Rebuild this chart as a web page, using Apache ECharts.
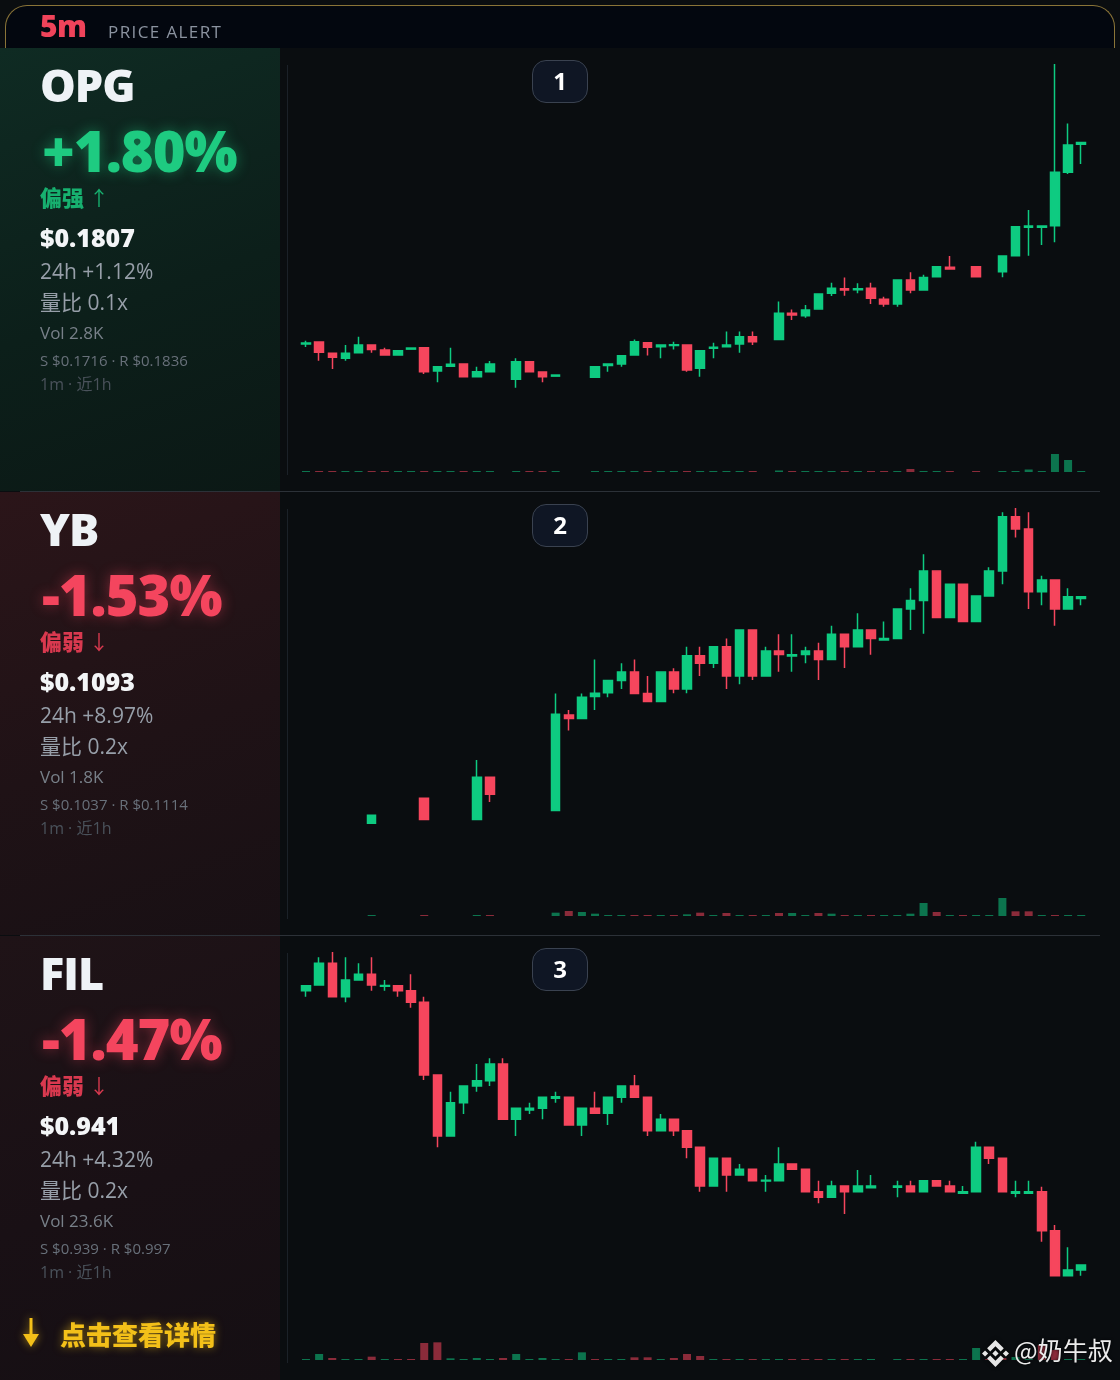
<!DOCTYPE html>
<html><head><meta charset="utf-8">
<script src="https://cdn.jsdelivr.net/npm/echarts@6/dist/echarts.min.js"></script>
<style>
html,body{margin:0;padding:0;background:#0a0d10;}
#root{position:relative;width:1120px;height:1380px;overflow:hidden;background:#0a0d10;font-family:"Open Sans","Noto Sans CJK SC",sans-serif;}
.abs{position:absolute;white-space:nowrap;line-height:1;}
#chart{position:absolute;left:0;top:0;width:1120px;height:1380px;z-index:2;}
.txt{z-index:3;}
.lbg{position:absolute;left:0;width:280px;height:443px;z-index:0;}
.vline{position:absolute;left:287px;width:1px;height:410px;background:#1b2128;z-index:1;}
.sep{position:absolute;left:20px;width:1080px;height:1px;background:#2c3138;z-index:1;}
.sym{font-size:45px;font-weight:800;color:#eef2f6;letter-spacing:-1px;}
.pct{font-size:56px;font-weight:800;letter-spacing:-1px;}
.up{color:#1ecb81;text-shadow:0 0 14px rgba(30,203,129,0.45);}
.dn{color:#f4455e;text-shadow:0 0 14px rgba(244,69,94,0.45);}
.tag{font-size:22px;font-weight:900;font-family:"Noto Sans CJK SC",sans-serif;}
.tag span{font-size:20px;font-weight:400;font-family:"Noto Sans CJK SC",sans-serif;}
.tagup{color:#17b06f;}
.tagdn{color:#d9394f;}
.price{font-size:25px;font-weight:800;color:#f3f5f7;}
.l1{font-size:21px;color:#979fa9;}
.l2{font-size:17px;color:#788089;}
.l3{font-size:15px;color:#68707a;}
.l4{font-size:16px;color:#4a525b;}
.badge{position:absolute;left:532px;width:56px;height:43px;box-sizing:border-box;border:1.5px solid #3a4250;border-radius:14px;background:#0f1624;color:#fff;font-size:24px;font-weight:700;text-align:center;line-height:40px;z-index:3;}
</style></head>
<body>
<div id="root">
  <!-- header -->
  <div class="abs" style="left:0;top:0;width:1120px;height:48px;background:#0a0d10;"></div>
  <div class="abs" style="left:5px;top:5px;width:1110px;height:60px;box-sizing:border-box;border:1.5px solid #8a7438;border-bottom:none;border-radius:22px 22px 0 0;background:#03070f;"></div>
  <div class="abs txt" style="left:40px;top:11px;font-size:30px;font-weight:800;color:#f0435a;letter-spacing:-0.5px;">5m</div>
  <div class="abs txt" style="left:108px;top:23px;font-size:17px;letter-spacing:1.4px;color:#8b93a0;">PRICE ALERT</div>

  <!-- panel backgrounds -->
  <div class="abs" style="left:0;top:48px;width:1120px;height:1332px;background:#0a0d10;z-index:0;"></div>
  <div class="lbg" style="top:48px;background:linear-gradient(160deg,#0f2b23 0%,#0c1f1a 55%,#0b1815 100%);"></div>
  <div class="lbg" style="top:492px;background:linear-gradient(160deg,#2b1519 0%,#1f1216 55%,#181014 100%);"></div>
  <div class="lbg" style="top:936px;height:444px;background:linear-gradient(160deg,#1f1317 0%,#191015 55%,#150f13 100%);"></div>
  <div class="sep" style="top:491px;"></div>
  <div class="sep" style="top:935px;"></div>
  <div class="vline" style="top:65px;"></div>
  <div class="vline" style="top:509px;"></div>
  <div class="vline" style="top:953px;"></div>

  <div id="chart"></div>

  <!-- panel 1 texts -->
  <div class="abs txt sym" style="left:40px;top:62px;">OPG</div>
  <div class="abs txt pct up" style="left:42px;top:122px;">+1.80%</div>
  <div class="abs txt tag tagup" style="left:40px;top:185px;">偏强 <span>↑</span></div>
  <div class="abs txt price" style="left:40px;top:225px;">$0.1807</div>
  <div class="abs txt l1" style="left:40px;top:261px;">24h +1.12%</div>
  <div class="abs txt l1" style="left:40px;top:292px;">量比 0.1x</div>
  <div class="abs txt l2" style="left:40px;top:324px;">Vol 2.8K</div>
  <div class="abs txt l3" style="left:40px;top:353px;">S $0.1716 · R $0.1836</div>
  <div class="abs txt l4" style="left:40px;top:376px;">1m · 近1h</div>
  <div class="badge" style="top:60px;">1</div>

  <!-- panel 2 texts -->
  <div class="abs txt sym" style="left:40px;top:506px;">YB</div>
  <div class="abs txt pct dn" style="left:42px;top:566px;">-1.53%</div>
  <div class="abs txt tag tagdn" style="left:40px;top:629px;">偏弱 <span>↓</span></div>
  <div class="abs txt price" style="left:40px;top:669px;">$0.1093</div>
  <div class="abs txt l1" style="left:40px;top:705px;">24h +8.97%</div>
  <div class="abs txt l1" style="left:40px;top:736px;">量比 0.2x</div>
  <div class="abs txt l2" style="left:40px;top:768px;">Vol 1.8K</div>
  <div class="abs txt l3" style="left:40px;top:797px;">S $0.1037 · R $0.1114</div>
  <div class="abs txt l4" style="left:40px;top:820px;">1m · 近1h</div>
  <div class="badge" style="top:504px;">2</div>

  <!-- panel 3 texts -->
  <div class="abs txt sym" style="left:40px;top:950px;">FIL</div>
  <div class="abs txt pct dn" style="left:42px;top:1010px;">-1.47%</div>
  <div class="abs txt tag tagdn" style="left:40px;top:1073px;">偏弱 <span>↓</span></div>
  <div class="abs txt price" style="left:40px;top:1113px;">$0.941</div>
  <div class="abs txt l1" style="left:40px;top:1149px;">24h +4.32%</div>
  <div class="abs txt l1" style="left:40px;top:1180px;">量比 0.2x</div>
  <div class="abs txt l2" style="left:40px;top:1212px;">Vol 23.6K</div>
  <div class="abs txt l3" style="left:40px;top:1241px;">S $0.939 · R $0.997</div>
  <div class="abs txt l4" style="left:40px;top:1264px;">1m · 近1h</div>
  <div class="badge" style="top:948px;">3</div>

  <!-- CTA -->
  <svg class="abs txt" style="left:21px;top:1317px;filter:drop-shadow(0 0 4px rgba(243,192,25,0.6));" width="20" height="32" viewBox="0 0 20 32">
    <rect x="8.5" y="1" width="3" height="20" fill="#f3c019"/>
    <polygon points="2,17 18,17 10,30" fill="#f3c019"/>
  </svg>
  <div class="abs txt" style="left:60px;top:1321px;font-size:26px;font-weight:900;font-family:'Noto Sans CJK SC',sans-serif;color:#f3c019;text-shadow:0 0 8px rgba(243,192,25,0.55);">点击查看详情</div>

  <!-- watermark -->
  <svg class="abs txt" style="left:982px;top:1340px;filter:drop-shadow(0 0 2px rgba(0,0,0,0.8));" width="27" height="27" viewBox="0 0 126 126">
    <path fill="#e6e6e6" d="M38.171 53.203l24.588-24.587 24.6 24.6 14.3-14.3L62.759 0 23.871 38.888zM0 62.759l14.3-14.3 14.3 14.3-14.3 14.3zM38.171 72.316l24.588 24.587 24.6-24.6 14.307 14.293-.007.007-38.9 38.9-38.889-38.887-.02-.02zM97.218 62.759l14.3-14.3 14.3 14.3-14.3 14.3zM77.26 62.752L62.759 48.245 48.245 62.759 62.759 77.266z"/>
  </svg>
  <div class="abs txt" style="left:1014px;top:1337px;font-size:25px;font-family:'Noto Sans CJK SC',sans-serif;color:#ececec;text-shadow:0 0 3px rgba(0,0,0,0.9);">@奶牛叔</div>
</div>

<script>
// ---------- data ----------
const minutes = [1,2,3,4,5,6,7,8,9,10,11,12,13,14,15,16,17,18,19,20,21,22,23,24,25,26,27,28,29,30,
  31,32,33,34,35,36,37,38,39,40,41,42,43,44,45,46,47,48,49,50,51,52,53,54,55,56,57,58,59,60];

// OPG 1m candles (null = no trade that minute)
const opgOpen = [0.17323,0.17330,0.17289,0.17270,0.17291,0.17319,0.17301,0.17282,0.17304,0.17309,
  0.17223,0.17241,0.17249,0.17202,0.17220,null,0.17192,0.17257,0.17219,0.17204,
  null,null,0.17200,0.17243,0.17249,0.17282,0.17328,0.17313,0.17317,0.17319,
  0.17233,0.17307,0.17313,0.17323,0.17350,null,0.17340,0.17437,0.17428,0.17453,
  0.17511,0.17528,0.17524,0.17529,0.17489,0.17471,0.17560,0.17523,0.17572,0.17607,
  null,0.17609,null,0.17591,0.17650,0.17755,0.17755,0.17761,0.17959,0.18063];
const opgClose = [0.17327,0.17292,0.17274,0.17289,0.17319,0.17303,0.17282,0.17298,0.17308,0.17220,
  0.17239,0.17248,0.17202,0.17220,0.17249,null,0.17257,0.17220,0.17202,0.17208,
  null,null,0.17239,0.17249,0.17279,0.17331,0.17311,0.17319,0.17320,0.17227,
  0.17298,0.17311,0.17319,0.17350,0.17331,null,0.17437,0.17430,0.17449,0.17508,
  0.17529,0.17523,0.17528,0.17492,0.17471,0.17560,0.17523,0.17569,0.17609,0.17601,
  null,0.17572,null,0.17649,0.17757,0.17760,0.17760,0.17959,0.18060,0.18069];
const opgLow = [0.17312,0.17261,0.17230,0.17261,0.17291,0.17291,0.17282,0.17282,0.17304,0.17212,
  0.17181,0.17241,0.17202,0.17202,0.17220,null,0.17161,0.17220,0.17181,0.17204,
  null,null,0.17200,0.17220,0.17239,0.17282,0.17280,0.17270,0.17303,0.17220,
  0.17202,0.17270,0.17313,0.17291,0.17319,null,0.17340,0.17412,0.17420,0.17453,
  0.17501,0.17502,0.17511,0.17471,0.17461,0.17461,0.17511,0.17523,0.17572,0.17601,
  null,0.17572,null,0.17570,0.17650,0.17650,0.17690,0.17700,0.17953,0.17990];
const opgHigh = [0.17335,0.17330,0.17289,0.17319,0.17350,0.17319,0.17309,0.17298,0.17308,0.17309,
  0.17239,0.17309,0.17249,0.17239,0.17260,null,0.17270,0.17257,0.17219,0.17208,
  null,null,0.17239,0.17249,0.17279,0.17340,0.17328,0.17319,0.17331,0.17319,
  0.17298,0.17328,0.17369,0.17369,0.17369,null,0.17480,0.17451,0.17467,0.17508,
  0.17550,0.17569,0.17548,0.17550,0.17498,0.17560,0.17589,0.17579,0.17609,0.17649,
  null,0.17609,null,0.17649,0.17757,0.17819,0.17760,0.18360,0.18140,0.18069];
const opgVol = [40,40,40,40,40,40,40,40,40,40,40,40,40,40,40,null,40,40,40,40,
  null,null,40,40,40,40,40,40,40,40,40,40,40,40,40,null,60,40,40,40,
  40,40,40,40,40,40,120,40,40,40,null,40,null,40,40,100,40,720,480,40];
const opgRange = [0.1716, 0.1836]; // S / R

// YB
const ybOpen = [null,null,null,null,null,0.10391,null,null,null,0.10450,
  null,null,null,0.10400,0.10500,null,null,null,null,0.10421,
  0.10648,0.10640,0.10692,0.10701,0.10730,0.10750,0.10699,0.10680,0.10750,0.10710,
  0.10789,0.10771,0.10810,0.10741,0.10850,0.10741,0.10800,0.10788,0.10792,0.10800,
  0.10780,0.10840,0.10810,0.10850,0.10826,0.10830,0.10900,0.10920,0.10990,0.10880,
  0.10959,0.10870,0.10931,0.10990,0.11119,0.11090,0.10941,0.10969,0.10900,0.10925];
const ybClose = [null,null,null,null,null,0.10410,null,null,null,0.10400,
  null,null,null,0.10500,0.10460,null,null,null,null,0.10650,
  0.10640,0.10690,0.10700,0.10730,0.10750,0.10699,0.10680,0.10750,0.10710,0.10789,
  0.10771,0.10810,0.10741,0.10850,0.10741,0.10800,0.10792,0.10791,0.10800,0.10780,
  0.10840,0.10810,0.10850,0.10830,0.10830,0.10900,0.10920,0.10990,0.10880,0.10959,
  0.10870,0.10931,0.10990,0.11119,0.11090,0.10941,0.10969,0.10900,0.10929,0.10929];
const ybLow = [null,null,null,null,null,0.10391,null,null,null,0.10400,
  null,null,null,0.10400,0.10441,null,null,null,null,0.10421,
  0.10611,0.10640,0.10660,0.10690,0.10710,0.10699,0.10680,0.10680,0.10700,0.10700,
  0.10741,0.10760,0.10710,0.10721,0.10731,0.10741,0.10751,0.10751,0.10771,0.10731,
  0.10780,0.10760,0.10810,0.10791,0.10826,0.10830,0.10850,0.10841,0.10880,0.10880,
  0.10870,0.10870,0.10931,0.10959,0.11070,0.10900,0.10909,0.10860,0.10900,0.10909];
const ybHigh = [null,null,null,null,null,0.10410,null,null,null,0.10450,
  null,null,null,0.10541,0.10500,null,null,null,null,0.10699,
  0.10660,0.10699,0.10780,0.10730,0.10771,0.10780,0.10741,0.10750,0.10759,0.10810,
  0.10810,0.10810,0.10830,0.10850,0.10850,0.10810,0.10840,0.10840,0.10810,0.10820,
  0.10860,0.10840,0.10890,0.10850,0.10870,0.10900,0.10949,0.11030,0.10990,0.10959,
  0.10959,0.10931,0.10999,0.11130,0.11140,0.11130,0.10979,0.10969,0.10949,0.10929];
const ybVol = [null,null,null,null,null,30,null,null,null,30,null,null,null,30,30,null,null,null,null,100,
  150,120,70,30,30,30,30,30,30,50,100,30,90,30,30,30,90,90,30,90,
  70,30,30,30,30,30,70,390,120,30,30,30,30,540,140,140,30,30,30,30];
const ybRange = [0.1037, 0.1114];

// FIL
const filOpen = [0.99007,0.99109,0.99498,0.98900,0.99199,0.99301,0.99088,0.99097,0.99007,0.98800,
  0.97498,0.96406,0.97002,0.97301,0.97396,0.97695,0.96705,0.96872,0.96902,0.97081,
  0.97099,0.96603,0.96902,0.96813,0.97099,0.97301,0.97099,0.96501,0.96705,0.96501,
  0.96204,0.95511,0.96007,0.95708,0.95810,0.95601,0.95606,0.95905,0.95810,0.95409,
  0.95309,0.95511,0.95409,0.95481,null,0.95488,0.95511,0.95409,0.95606,0.95511,
  0.95380,0.95409,0.96204,0.96007,0.95380,0.95380,0.95409,0.94711,0.93905,0.94007];
const filClose = [0.99097,0.99498,0.98900,0.99199,0.99301,0.99109,0.99100,0.99007,0.98800,0.97498,
  0.96406,0.97002,0.97301,0.97396,0.97695,0.96705,0.96902,0.96902,0.97099,0.97110,
  0.96603,0.96902,0.96813,0.97099,0.97301,0.97099,0.96501,0.96705,0.96501,0.96204,
  0.95511,0.96007,0.95708,0.95810,0.95606,0.95613,0.95905,0.95810,0.95409,0.95309,
  0.95511,0.95409,0.95511,0.95511,null,0.95511,0.95409,0.95606,0.95511,0.95409,
  0.95409,0.96204,0.96007,0.95409,0.95409,0.95409,0.94711,0.93905,0.94007,0.94097];
const filLow = [0.98900,0.99109,0.98900,0.98800,0.99199,0.99007,0.99007,0.98900,0.98703,0.97409,
  0.96204,0.96406,0.96800,0.97199,0.97301,0.96705,0.96406,0.96800,0.96705,0.97002,
  0.96603,0.96406,0.96813,0.96603,0.97002,0.97099,0.96406,0.96501,0.96406,0.96007,
  0.95409,0.95511,0.95409,0.95708,0.95606,0.95409,0.95606,0.95810,0.95409,0.95201,
  0.95309,0.95010,0.95409,0.95481,null,0.95309,0.95409,0.95409,0.95511,0.95409,
  0.95380,0.95409,0.95905,0.95409,0.95309,0.95380,0.94514,0.93905,0.93905,0.93905];
const filHigh = [0.99097,0.99605,0.99700,0.99605,0.99498,0.99605,0.99199,0.99097,0.99301,0.98900,
  0.97498,0.97199,0.97301,0.97695,0.97797,0.97797,0.96902,0.97002,0.97099,0.97199,
  0.97099,0.96902,0.97199,0.97099,0.97301,0.97498,0.97099,0.96800,0.96705,0.96501,
  0.96204,0.96007,0.96007,0.95905,0.95810,0.95708,0.96204,0.95905,0.95810,0.95606,
  0.95606,0.95511,0.95798,0.95708,null,0.95606,0.95606,0.95606,0.95606,0.95606,
  0.95511,0.96304,0.96204,0.96007,0.95606,0.95606,0.95499,0.94813,0.94414,0.94097];
const filVol = [300,1800,600,300,300,1000,300,300,300,5100,5300,500,300,600,300,600,1800,300,600,300,
  300,2300,300,300,300,800,800,300,600,1800,1200,300,300,300,300,300,300,300,300,300,
  300,300,300,300,null,300,300,300,300,300,300,3600,300,600,900,300,4500,3000,300,300];
const filRange = [0.939, 0.997];

// ---------- chart ----------
const UP = '#0ecb81', DN = '#f6465d';
const UPV = 'rgba(14,203,129,0.55)', DNV = 'rgba(246,70,93,0.55)';

const panels = [
  {o:opgOpen,c:opgClose,l:opgLow,h:opgHigh,v:opgVol,r:opgRange,vmax:1600},
  {o:ybOpen,c:ybClose,l:ybLow,h:ybHigh,v:ybVol,r:ybRange,vmax:1200},
  {o:filOpen,c:filClose,l:filLow,h:filHigh,v:filVol,r:filRange,vmax:12000}
];

const GL = 299.4, GW = 788.4;
const grids = [], xAxes = [], yAxes = [], series = [];
panels.forEach((p, k) => {
  const top = 48 + 444 * k;
  grids.push({left: GL, width: GW, top: top + 16, height: 324});
  grids.push({left: GL, width: GW, top: top + 384, height: 40});
  [0, 1].forEach(j => {
    xAxes.push({type: 'category', data: minutes, gridIndex: 2 * k + j, boundaryGap: true, show: false});
  });
  yAxes.push({type: 'value', gridIndex: 2 * k, min: p.r[0], max: p.r[1], show: false, scale: true});
  yAxes.push({type: 'value', gridIndex: 2 * k + 1, min: 0, max: p.vmax, show: false});
  series.push({
    type: 'candlestick', xAxisIndex: 2 * k, yAxisIndex: 2 * k, barWidth: 9,
    data: p.o.map((v, i) => v == null ? ['-', '-', '-', '-'] : [v, p.c[i], p.l[i], p.h[i]]),
    itemStyle: {color: UP, color0: DN, borderColor: UP, borderColor0: DN, borderWidth: 1.5}
  });
  series.push({
    type: 'bar', xAxisIndex: 2 * k + 1, yAxisIndex: 2 * k + 1, barWidth: 8,
    data: p.v.map((v, i) => v == null ? '-' : {value: v, itemStyle: {color: p.c[i] >= p.o[i] ? UPV : DNV}})
  });
});

const chart = echarts.init(document.getElementById('chart'), null, {renderer: 'canvas'});
chart.setOption({
  backgroundColor: 'transparent',
  animation: false,
  grid: grids, xAxis: xAxes, yAxis: yAxes, series: series
});
</script>
</body></html>
